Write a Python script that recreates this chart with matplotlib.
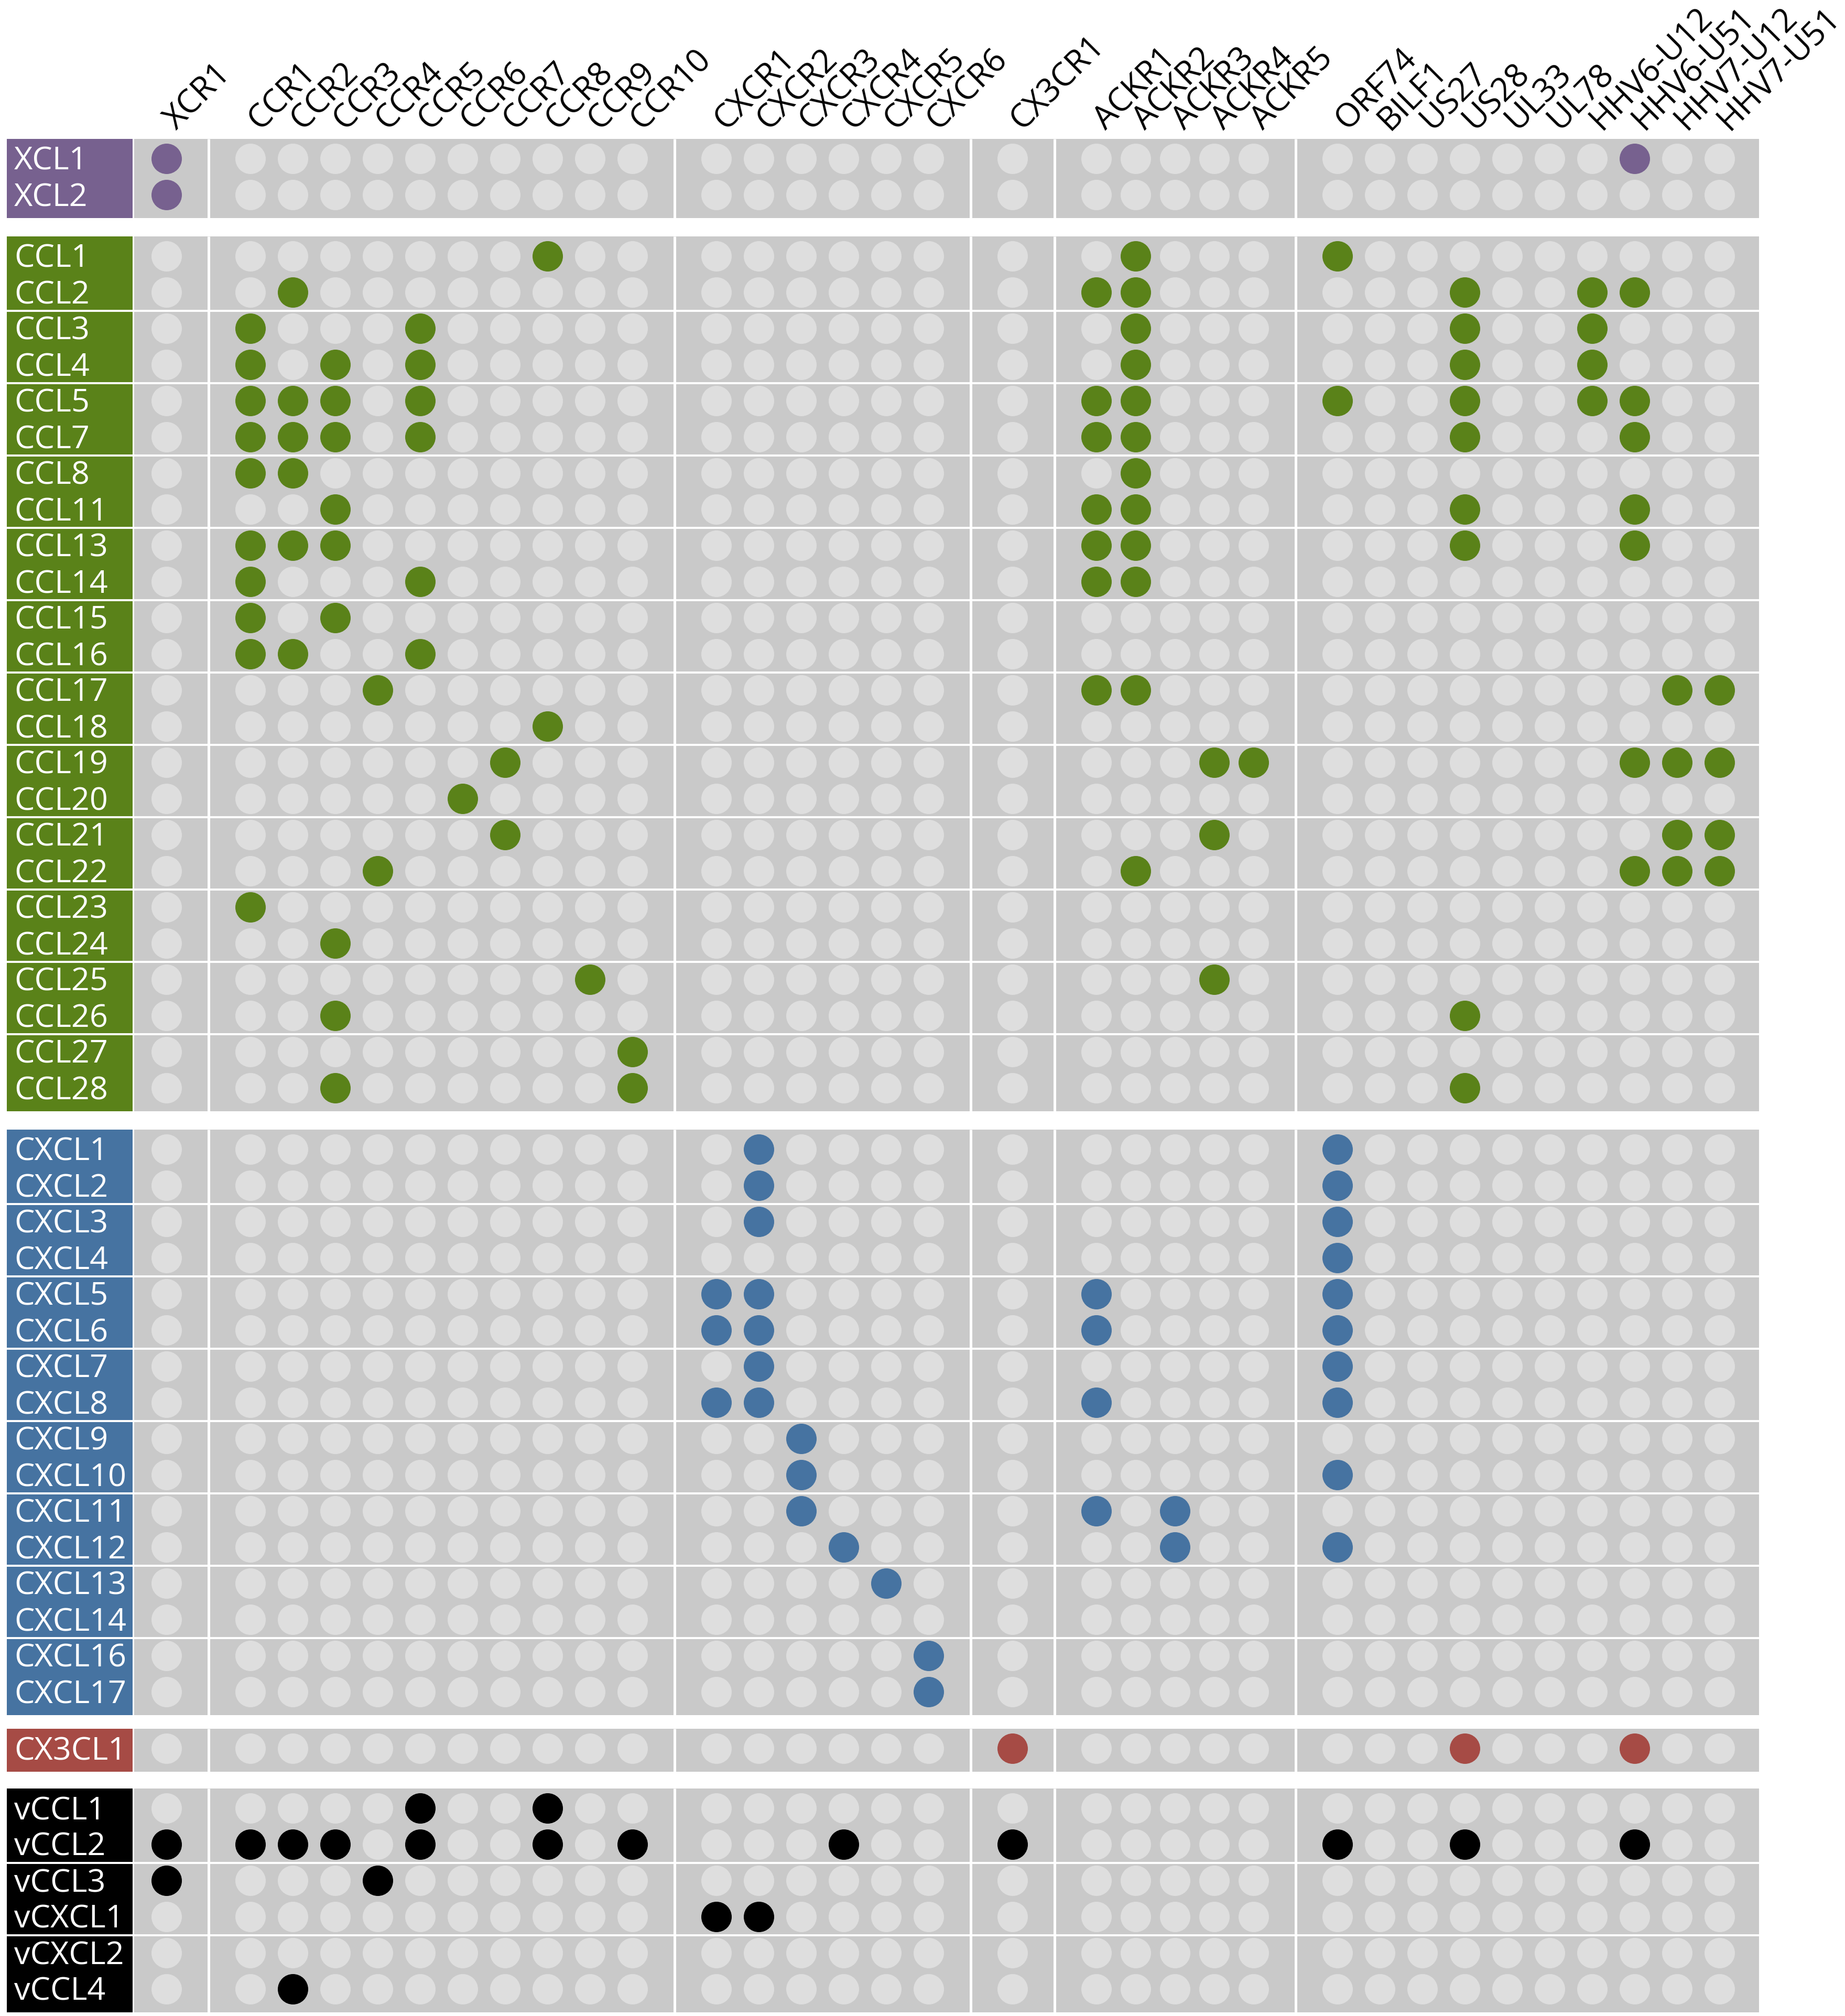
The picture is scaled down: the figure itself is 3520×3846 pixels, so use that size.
import matplotlib
matplotlib.use('Agg')
import matplotlib.pyplot as plt
from matplotlib.patches import Rectangle, Circle

plt.rcParams['font.family'] = ['Open Sans', 'DejaVu Sans']

# receptors, in column groups
receptor_groups = [
    ['XCR1'],
    ['CCR1', 'CCR2', 'CCR3', 'CCR4', 'CCR5', 'CCR6', 'CCR7', 'CCR8', 'CCR9', 'CCR10'],
    ['CXCR1', 'CXCR2', 'CXCR3', 'CXCR4', 'CXCR5', 'CXCR6'],
    ['CX3CR1'],
    ['ACKR1', 'ACKR2', 'ACKR3', 'ACKR4', 'ACKR5'],
    ['ORF74', 'BILF1', 'US27', 'US28', 'UL33', 'UL78',
     'HHV6-U12', 'HHV6-U51', 'HHV7-U12', 'HHV7-U51'],
]

# ligands, in row groups
ligand_groups = [
    ['XCL1', 'XCL2'],
    ['CCL1', 'CCL2', 'CCL3', 'CCL4', 'CCL5', 'CCL7', 'CCL8', 'CCL11', 'CCL13',
     'CCL14', 'CCL15', 'CCL16', 'CCL17', 'CCL18', 'CCL19', 'CCL20', 'CCL21',
     'CCL22', 'CCL23', 'CCL24', 'CCL25', 'CCL26', 'CCL27', 'CCL28'],
    ['CXCL1', 'CXCL2', 'CXCL3', 'CXCL4', 'CXCL5', 'CXCL6', 'CXCL7', 'CXCL8',
     'CXCL9', 'CXCL10', 'CXCL11', 'CXCL12', 'CXCL13', 'CXCL14', 'CXCL16', 'CXCL17'],
    ['CX3CL1'],
    ['vCCL1', 'vCCL2', 'vCCL3', 'vCXCL1', 'vCXCL2', 'vCCL4'],
]
group_colors = ['#77618f', '#5a8219', '#4673a1', '#a64b45', '#000000']

# receptors bound by each ligand
binds = {
    'XCL1': ['XCR1', 'HHV6-U51'],
    'XCL2': ['XCR1'],
    'CCL1': ['CCR8', 'ACKR2', 'ORF74'],
    'CCL2': ['CCR2', 'ACKR1', 'ACKR2', 'US28', 'HHV6-U12', 'HHV6-U51'],
    'CCL3': ['CCR1', 'CCR5', 'ACKR2', 'US28', 'HHV6-U12'],
    'CCL4': ['CCR1', 'CCR3', 'CCR5', 'ACKR2', 'US28', 'HHV6-U12'],
    'CCL5': ['CCR1', 'CCR2', 'CCR3', 'CCR5', 'ACKR1', 'ACKR2', 'ORF74', 'US28',
             'HHV6-U12', 'HHV6-U51'],
    'CCL7': ['CCR1', 'CCR2', 'CCR3', 'CCR5', 'ACKR1', 'ACKR2', 'US28', 'HHV6-U51'],
    'CCL8': ['CCR1', 'CCR2', 'ACKR2'],
    'CCL11': ['CCR3', 'ACKR1', 'ACKR2', 'US28', 'HHV6-U51'],
    'CCL13': ['CCR1', 'CCR2', 'CCR3', 'ACKR1', 'ACKR2', 'US28', 'HHV6-U51'],
    'CCL14': ['CCR1', 'CCR5', 'ACKR1', 'ACKR2'],
    'CCL15': ['CCR1', 'CCR3'],
    'CCL16': ['CCR1', 'CCR2', 'CCR5'],
    'CCL17': ['CCR4', 'ACKR1', 'ACKR2', 'HHV7-U12', 'HHV7-U51'],
    'CCL18': ['CCR8'],
    'CCL19': ['CCR7', 'ACKR4', 'ACKR5', 'HHV6-U51', 'HHV7-U12', 'HHV7-U51'],
    'CCL20': ['CCR6'],
    'CCL21': ['CCR7', 'ACKR4', 'HHV7-U12', 'HHV7-U51'],
    'CCL22': ['CCR4', 'ACKR2', 'HHV6-U51', 'HHV7-U12', 'HHV7-U51'],
    'CCL23': ['CCR1'],
    'CCL24': ['CCR3'],
    'CCL25': ['CCR9', 'ACKR4'],
    'CCL26': ['CCR3', 'US28'],
    'CCL27': ['CCR10'],
    'CCL28': ['CCR3', 'CCR10', 'US28'],
    'CXCL1': ['CXCR2', 'ORF74'],
    'CXCL2': ['CXCR2', 'ORF74'],
    'CXCL3': ['CXCR2', 'ORF74'],
    'CXCL4': ['ORF74'],
    'CXCL5': ['CXCR1', 'CXCR2', 'ACKR1', 'ORF74'],
    'CXCL6': ['CXCR1', 'CXCR2', 'ACKR1', 'ORF74'],
    'CXCL7': ['CXCR2', 'ORF74'],
    'CXCL8': ['CXCR1', 'CXCR2', 'ACKR1', 'ORF74'],
    'CXCL9': ['CXCR3'],
    'CXCL10': ['CXCR3', 'ORF74'],
    'CXCL11': ['CXCR3', 'ACKR1', 'ACKR3'],
    'CXCL12': ['CXCR4', 'ACKR3', 'ORF74'],
    'CXCL13': ['CXCR5'],
    'CXCL14': [],
    'CXCL16': ['CXCR6'],
    'CXCL17': ['CXCR6'],
    'CX3CL1': ['CX3CR1', 'US28', 'HHV6-U51'],
    'vCCL1': ['CCR5', 'CCR8'],
    'vCCL2': ['XCR1', 'CCR1', 'CCR2', 'CCR3', 'CCR5', 'CCR8', 'CCR10', 'CXCR4',
              'CX3CR1', 'ORF74', 'US28', 'HHV6-U51'],
    'vCCL3': ['XCR1', 'CCR4'],
    'vCXCL1': ['CXCR1', 'CXCR2'],
    'vCXCL2': [],
    'vCCL4': ['CCR2'],
}

# layout (pixels)
W, H = 3520, 3846
col_start, col_gap = 318, 160
col_step = [81, 81, 81, 81, 75, 81]
row_start, row_step = 303, 69
block_gap = [117, 117, 108, 114]
pad_top, pad_bot = 38, 44
dot_r = 29
bg_gray = '#c9c9c9'
empty_gray = '#dedede'
fs = 44
fs_head = 45

fig = plt.figure(figsize=(W / 100, H / 100), dpi=100)
ax = fig.add_axes([0, 0, 1, 1])
ax.set_xlim(0, W)
ax.set_ylim(H, 0)
ax.axis('off')

# column x positions
col_x = {}
group_x = []
x = col_start
for gi, grp in enumerate(receptor_groups):
    xs = []
    for j, name in enumerate(grp):
        if j > 0:
            x += col_step[gi]
        col_x[name] = x
        xs.append(x)
    group_x.append(xs)
    x += col_gap
seps = [(group_x[i][-1] + group_x[i + 1][0]) / 2 for i in range(len(group_x) - 1)]
left_edge = group_x[0][0] - 62
right_edge = group_x[-1][-1] + 75
label_l, label_r = 13, 253

# header labels
for name, cx in col_x.items():
    ax.text(cx + 18, 250, name, rotation=45, rotation_mode='anchor',
            ha='left', va='baseline', fontsize=fs_head, color='black')

y = row_start
for gi, grp in enumerate(ligand_groups):
    ys = []
    for j, name in enumerate(grp):
        if j > 0:
            y += row_step
        ys.append(y)
    top, bot = ys[0] - pad_top, ys[-1] + pad_bot
    color = group_colors[gi]
    ax.add_patch(Rectangle((label_l, top), label_r - label_l, bot - top,
                           facecolor=color, edgecolor='none'))
    ax.add_patch(Rectangle((left_edge, top), right_edge - left_edge, bot - top,
                           facecolor=bg_gray, edgecolor='none'))
    for sx in seps:
        ax.plot([sx, sx], [top, bot], color='white', lw=3.6, solid_capstyle='butt')
    # white lines between pairs of rows
    for k in range(2, len(ys), 2):
        ly = (ys[k - 1] + ys[k]) / 2
        ax.plot([label_l, right_edge], [ly, ly], color='white', lw=2.8,
                solid_capstyle='butt')
    for name, ry in zip(grp, ys):
        ax.text(27, ry + 21, name, ha='left', va='baseline', fontsize=fs,
                color='white')
        for rec, cx in col_x.items():
            fc = color if rec in binds[name] else empty_gray
            ax.add_patch(Circle((cx, ry), dot_r, facecolor=fc, edgecolor='none'))
    if gi < len(block_gap):
        y += block_gap[gi]

fig.savefig('out.png', dpi=100, facecolor='white')
